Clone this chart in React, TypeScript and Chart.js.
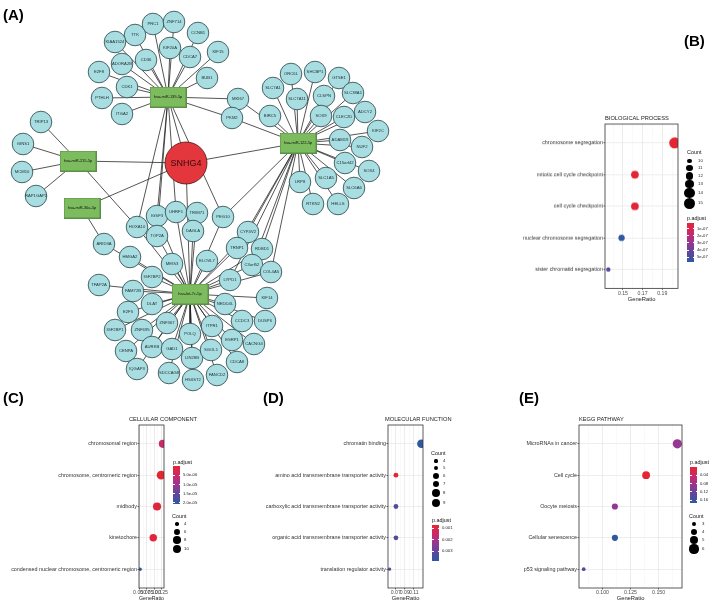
import React, { useEffect, useRef } from 'react';
import { Chart, registerables } from 'chart.js';

Chart.register(...registerables);

const FONT = '"Liberation Sans", Arial, Helvetica, sans-serif';

/* ===================== (A) ceRNA network data ===================== */
const lncRNA = 'SNHG4';
const miRNAs = ['hsa-miR-139-5p', 'hsa-miR-122-5p', 'hsa-miR-215-5p', 'hsa-miR-30a-5p', 'hsa-let-7c-5p'];
const targets139 = ['TTK', 'PRC1', 'ZNF714', 'KIAA1524', 'KIF20A', 'CD36', 'ADORA2B', 'E2F8', 'CDK1', 'PTHLH', 'ITGA2',
  'CCNB1', 'KIF15', 'CDCA7', 'BUB1', 'MKI67', 'PKM2', 'HOXA10', 'IGSF3', 'TOP2A', 'UHRF1', 'PEG10'];
const targets122 = ['ORC6L', 'SHCBP1', 'GTSE1', 'SLC7A1', 'SLC7A11', 'CLSPN', 'SLC38A1', 'BIRC5', 'SOX9', 'CLEC2D',
  'ADCY2', 'KIF2C', 'ADAM19', 'NUF2', 'C15orf42', 'SOX4', 'SLC6A6', 'SLC1A5', 'LRP8', 'RTKN2', 'HELLS', 'MKI67', 'PKM2',
  'PEG10', 'CYP4V2', 'TRNP1', 'RDBD1', 'C3orf52', 'COL4A5', 'LYPD1'];
const targets215 = ['TRIP13', 'GINS1', 'MCM10', 'RAP1GAP2', 'HOXA10'];
const targets30a = ['ARID3A'];
const targetsLet7c = ['HOXA10', 'IGSF3', 'TOP2A', 'UHRF1', 'TRIM71', 'DAGLA', 'PEG10', 'MEIS3', 'ELOVL7', 'ARID3A',
  'HMGA2', 'IGF2BP2', 'TFAP2A', 'FAM72B', 'DLAT', 'E2F5', 'IGF2BP1', 'ZNF695', 'ZNF367', 'CENPA', 'AURKB', 'GAD1',
  'IQGAP3', 'SDCCAG8', 'HS6ST2', 'LIN28B', 'POLQ', 'FANCD2', 'SGOL1', 'ITPR1', 'ESRP1', 'CDCA8', 'CACNG4', 'CCDC3',
  'DUSP6', 'KIF14', 'NEDD4L', 'LYPD1', 'C3orf52', 'COL4A5', 'TRNP1', 'RDBD1', 'CYP4V2'];
const targetLists = [targets139, targets122, targets215, targets30a, targetsLet7c];

// graph layout (Cytoscape-style node positions)
const nodeLayout: Record<string, [number, number]> = {
  SNHG4: [186, 163],
  'hsa-miR-139-5p': [168, 97], 'hsa-miR-122-5p': [298, 143], 'hsa-miR-215-5p': [78, 161],
  'hsa-miR-30a-5p': [82, 208], 'hsa-let-7c-5p': [190, 294],
  TTK: [135, 35], PRC1: [153, 24], ZNF714: [174, 22], KIAA1524: [115, 42], KIF20A: [170, 48], CD36: [146, 60],
  ADORA2B: [122, 64], E2F8: [99, 72], CDK1: [127, 87], PTHLH: [102, 98], ITGA2: [122, 114], CCNB1: [198, 33],
  KIF15: [218, 52], CDCA7: [190, 57], BUB1: [207, 78], MKI67: [238, 99], PKM2: [232, 118],
  TRIP13: [41, 122], GINS1: [23, 144], MCM10: [22, 172], RAP1GAP2: [36, 196],
  ORC6L: [291, 74], SHCBP1: [315, 72], GTSE1: [339, 78], SLC7A1: [273, 88], SLC7A11: [297, 99], CLSPN: [324, 96],
  SLC38A1: [353, 93], BIRC5: [270, 116], SOX9: [321, 116], CLEC2D: [344, 117], ADCY2: [365, 112], KIF2C: [378, 131],
  ADAM19: [340, 140], NUF2: [362, 147], C15orf42: [345, 163], SOX4: [369, 171], SLC6A6: [354, 188], SLC1A5: [326, 178],
  LRP8: [300, 182], RTKN2: [313, 204], HELLS: [338, 204],
  HOXA10: [137, 227], IGSF3: [157, 216], TOP2A: [157, 236], UHRF1: [176, 212], TRIM71: [197, 213], DAGLA: [193, 231],
  PEG10: [223, 217], MEIS3: [172, 264], ELOVL7: [207, 261], ARID3A: [104, 244], HMGA2: [130, 257], IGF2BP2: [152, 277],
  TFAP2A: [99, 285], FAM72B: [133, 291], DLAT: [152, 304], E2F5: [128, 312], IGF2BP1: [115, 330], ZNF695: [142, 330],
  ZNF367: [167, 323], CENPA: [126, 351], AURKB: [152, 347], GAD1: [172, 349], IQGAP3: [137, 369], SDCCAG8: [169, 373],
  HS6ST2: [193, 380], LIN28B: [192, 358], POLQ: [190, 334], FANCD2: [217, 375], SGOL1: [211, 350], ITPR1: [212, 326],
  ESRP1: [232, 340], CDCA8: [237, 362], CACNG4: [254, 344], CCDC3: [242, 321], DUSP6: [265, 321], KIF14: [267, 298],
  NEDD4L: [225, 304], LYPD1: [230, 280], C3orf52: [252, 265], COL4A5: [271, 272], TRNP1: [237, 248], RDBD1: [262, 249],
  CYP4V2: [248, 232],
};

/* ===================== (B)-(E) enrichment data ===================== */
const bpTerms = ['chromosome segregation', 'mitotic cell cycle checkpoint', 'cell cycle checkpoint',
  'nuclear chromosome segregation', 'sister chromatid segregation'];
const bpGeneRatio = [0.2027, 0.1622, 0.1622, 0.1486, 0.1351];
const bpCount = [15, 12, 12, 11, 10];
const bpPadj = [2.6e-8, 3.1e-8, 3.3e-8, 5.7e-7, 4.5e-7];
const bpXTicks = [0.15, 0.17, 0.19];
const bpXTickLabels = ['0.15', '0.17', '0.19'];
const bpXMinor = [0.14, 0.16, 0.18, 0.2];
const bpCountBreaks = [10, 11, 12, 13, 14, 15];
const bpPBreaks = [1e-7, 2e-7, 3e-7, 4e-7, 5e-7];
const bpPLabels = ['1e-07', '2e-07', '3e-07', '4e-07', '5e-07'];

const ccTerms = ['chromosomal region', 'chromosome, centromeric region', 'midbody', 'kinetochore',
  'condensed nuclear chromosome, centromeric region'];
const ccGeneRatio = [0.13, 0.124, 0.11, 0.097, 0.052];
const ccCount = [9, 10, 9, 8, 4];
const ccPadj = [5.5e-6, 2e-7, 1.2e-6, 1.0e-6, 2.07e-5];
const ccXTicks = [0.05, 0.075, 0.1, 0.125];
const ccXTickLabels = ['0.050', '0.075', '0.100', '0.125'];
const ccXMinor = [0.0625, 0.0875, 0.1125];
const ccCountBreaks = [4, 6, 8, 10];
const ccPBreaks = [5e-6, 1e-5, 1.5e-5, 2e-5];
const ccPLabels = ['5.0e-06', '1.0e-05', '1.5e-05', '2.0e-05'];

const mfTerms = ['chromatin binding', 'amino acid transmembrane transporter activity',
  'carboxylic acid transmembrane transporter activity', 'organic acid transmembrane transporter activity',
  'translation regulator activity'];
const mfGeneRatio = [0.1268, 0.0704, 0.0704, 0.0704, 0.0563];
const mfCount = [9, 5, 5, 5, 4];
const mfPadj = [0.00387, 0.00074, 0.0033, 0.0033, 0.0034];
const mfXTicks = [0.07, 0.09, 0.11];
const mfXTickLabels = ['0.07', '0.09', '0.11'];
const mfXMinor = [0.06, 0.08, 0.1, 0.12];
const mfCountBreaks = [4, 5, 6, 7, 8, 9];
const mfPBreaks = [0.001, 0.002, 0.003];
const mfPLabels = ['0.001', '0.002', '0.003'];

const keggTerms = ['MicroRNAs in cancer', 'Cell cycle', 'Oocyte meiosis', 'Cellular senescence', 'p53 signaling pathway'];
const keggGeneRatio = [0.1667, 0.1389, 0.1111, 0.1111, 0.0833];
const keggCount = [6, 5, 4, 4, 3];
const keggPadj = [0.088, 0.0015, 0.092, 0.175, 0.14];
const keggXTicks = [0.1, 0.125, 0.15];
const keggXTickLabels = ['0.100', '0.125', '0.150'];
const keggXMinor = [0.0875, 0.1125, 0.1375, 0.1625];
const keggCountBreaks = [3, 4, 5, 6];
const keggPBreaks = [0.04, 0.08, 0.12, 0.16];
const keggPLabels = ['0.04', '0.08', '0.12', '0.16'];

/* ===================== helpers ===================== */
const PALETTE: [number, number, number][] = [
  [228, 38, 50], [205, 40, 105], [150, 55, 145], [95, 70, 155], [48, 88, 160],
];
function colorAt(t: number) {
  const tt = Math.max(0, Math.min(1, t)) * (PALETTE.length - 1);
  const i = Math.min(PALETTE.length - 2, Math.floor(tt));
  const f = tt - i;
  const a = PALETTE[i], b = PALETTE[i + 1];
  const c = a.map((v, k) => Math.round(v + (b[k] - v) * f));
  return `rgb(${c[0]},${c[1]},${c[2]})`;
}
const gradientCss = `linear-gradient(to bottom, ${PALETTE.map((c, i) => `rgb(${c.join(',')}) ${(i / (PALETTE.length - 1)) * 100}%`).join(', ')})`;

type SizeCfg = { cMin: number; cMax: number; rMin: number; rMax: number };
function sizeFor(s: SizeCfg, c: number) {
  const f = (c - s.cMin) / (s.cMax - s.cMin);
  return Math.sqrt(s.rMin * s.rMin + f * (s.rMax * s.rMax - s.rMin * s.rMin));
}

function Txt({ x, y, size, text, bold = false, color = '#111' }: any) {
  const k = 4;
  return (
    <div style={{
      position: 'absolute', left: x, top: y - size * 0.6, fontFamily: FONT, fontSize: size * k,
      lineHeight: `${size * 1.2 * k}px`, fontWeight: bold ? 700 : 400, color, whiteSpace: 'nowrap',
      transform: `scale(${1 / k})`, transformOrigin: '0 0',
    }}>{text}</div>
  );
}

const nodeLabelPlugin = {
  id: 'nodeLabels',
  afterDatasetsDraw(chart: any) {
    const ctx = chart.ctx;
    chart.data.datasets.forEach((ds: any, i: number) => {
      if (!ds.nodeNames) return;
      const meta = chart.getDatasetMeta(i);
      ctx.save();
      ctx.font = `${ds.labelSize}px ${FONT}`;
      ctx.fillStyle = ds.labelColor;
      ctx.textAlign = 'center';
      ctx.textBaseline = 'middle';
      meta.data.forEach((el: any, j: number) => ctx.fillText(ds.nodeNames[j], el.x, el.y + 0.3));
      ctx.restore();
    });
  },
};

const panelBorderPlugin = {
  id: 'panelBorder',
  afterDatasetsDraw(chart: any) {
    const { ctx, chartArea: a } = chart;
    ctx.save();
    ctx.strokeStyle = '#333';
    ctx.lineWidth = 0.8;
    ctx.strokeRect(a.left, a.top, a.right - a.left, a.bottom - a.top);
    ctx.restore();
  },
};

/* ===================== (A) network chart ===================== */
const NET_W = 400;
const NET_H = 396;

function NetworkChart() {
  const ref = useRef<HTMLCanvasElement>(null);
  useEffect(() => {
    const genes = Array.from(new Set(targetLists.flat()));
    const edges: [string, string][] = [];
    miRNAs.forEach((m, i) => {
      edges.push([lncRNA, m]);
      targetLists[i].forEach((g) => edges.push([m, g]));
    });
    const pt = (n: string) => ({ x: nodeLayout[n][0], y: nodeLayout[n][1] });

    const rect = document.createElement('canvas');
    rect.width = 37; rect.height = 21;
    const g = rect.getContext('2d')!;
    g.fillStyle = '#7dbb5f';
    g.fillRect(0, 0, 37, 21);
    g.strokeStyle = '#5a8f46';
    g.lineWidth = 1;
    g.strokeRect(0.5, 0.5, 36, 20);

    const datasets: any[] = [
      {
        data: [pt(lncRNA)], nodeNames: [lncRNA], labelSize: 9, labelColor: '#3a0808',
        pointRadius: 21, pointBackgroundColor: '#e3373d', pointBorderColor: '#4a1515', pointBorderWidth: 0.8,
        order: 0, clip: false,
      },
      {
        data: miRNAs.map(pt), nodeNames: miRNAs, labelSize: 4, labelColor: '#111',
        pointStyle: rect, pointRadius: 18, order: 1, clip: false,
      },
      {
        data: genes.map(pt), nodeNames: genes, labelSize: 4.2, labelColor: '#203436',
        pointRadius: 10.8, pointBackgroundColor: '#a8dde1', pointBorderColor: '#2b4346', pointBorderWidth: 0.8,
        order: 2, clip: false,
      },
    ];
    edges.forEach(([a, b]) => datasets.push({
      data: [pt(a), pt(b)], showLine: true, borderColor: '#1c1c1c', borderWidth: 0.75,
      pointRadius: 0, order: 5, clip: false,
    }));

    const chart = new Chart(ref.current!, {
      type: 'scatter',
      data: { datasets },
      options: {
        animation: false, responsive: false, events: [],
        layout: { padding: 0, autoPadding: false },
        plugins: { legend: { display: false }, tooltip: { enabled: false } },
        scales: {
          x: { type: 'linear', display: false, min: 0, max: NET_W },
          y: { type: 'linear', display: false, min: 0, max: NET_H, reverse: true },
        },
      } as any,
      plugins: [nodeLabelPlugin],
    });
    return () => chart.destroy();
  }, []);
  return <canvas ref={ref} width={NET_W} height={NET_H}
    style={{ position: 'absolute', left: 0, top: 0, width: NET_W, height: NET_H }} />;
}

/* ===================== dot plot panels ===================== */
type Spec = {
  title: string; titleX: number; titleY: number;
  categories: string[]; ratio: number[]; count: number[]; padj: number[];
  xMajor: number[]; xMajorLabels: string[]; xMinor: number[];
  plot: { l: number; t: number; r: number; b: number }; canvasLeft: number; axisH: number;
  size: SizeCfg;
  countLeg: { x: number; titleY: number; breaks: number[]; ys: number[]; dotX: number; labelX: number };
  pLeg: { x: number; titleY: number; barY: number; barH: number; labelX: number; breaks: number[]; labels: string[] };
};

function DotPanel({ spec }: { spec: Spec }) {
  const ref = useRef<HTMLCanvasElement>(null);
  const padTop = 4, padRight = 8;
  const canvasTop = spec.plot.t - padTop;
  const W = spec.plot.r - spec.canvasLeft + padRight;
  const H = spec.plot.b - canvasTop + spec.axisH;
  const pLo = Math.min(...spec.padj), pHi = Math.max(...spec.padj);

  useEffect(() => {
    const n = spec.categories.length;
    const lo = Math.min(...spec.ratio), hi = Math.max(...spec.ratio);
    const ex = (hi - lo) * 0.05;
    const allTicks = [...spec.xMajor, ...spec.xMinor].sort((a, b) => a - b);
    const majorIdx = (v: number) => spec.xMajor.findIndex((m) => Math.abs(m - v) < 1e-9);
    const isMajor = (c: any) => !!c && !!c.tick && majorIdx(c.tick.value) >= 0;

    const chart = new Chart(ref.current!, {
      type: 'scatter',
      data: {
        datasets: [{
          data: spec.ratio.map((r, i) => ({ x: r, y: i + 1 })),
          pointRadius: spec.count.map((c) => sizeFor(spec.size, c)),
          pointBackgroundColor: spec.padj.map((p) => colorAt((p - pLo) / (pHi - pLo))),
          pointBorderWidth: 0,
        }],
      },
      options: {
        animation: false, responsive: false, events: [],
        layout: { padding: { top: padTop, right: padRight, left: 0, bottom: 0 }, autoPadding: false },
        plugins: { legend: { display: false }, tooltip: { enabled: false }, title: { display: false } },
        scales: {
          x: {
            type: 'linear', position: 'bottom', min: lo - ex, max: hi + ex,
            afterBuildTicks: (s: any) => { s.ticks = allTicks.map((v) => ({ value: v })); },
            afterFit: (s: any) => { s.height = spec.axisH; s.paddingLeft = 0; s.paddingRight = 0; },
            ticks: {
              autoSkip: false, maxRotation: 0, minRotation: 0, padding: 0,
              font: { family: FONT, size: 5.2 }, color: '#4d4d4d',
              callback: (v: any) => { const i = majorIdx(Number(v)); return i >= 0 ? spec.xMajorLabels[i] : ''; },
            },
            grid: {
              color: (c: any) => (isMajor(c) ? '#e4e4e4' : '#f2f2f2'),
              lineWidth: (c: any) => (isMajor(c) ? 0.7 : 0.5),
              tickColor: (c: any) => (isMajor(c) ? '#333' : 'rgba(0,0,0,0)'),
              tickLength: 1.5,
            },
            border: { display: false },
            title: { display: true, text: 'GeneRatio', font: { family: FONT, size: 5.8 }, color: '#1a1a1a', padding: 0 },
          },
          y: {
            type: 'linear', position: 'left', reverse: true, min: 0.4, max: n + 0.6,
            afterBuildTicks: (s: any) => { s.ticks = spec.categories.map((_, i) => ({ value: i + 1 })); },
            afterFit: (s: any) => { s.width = spec.plot.l - spec.canvasLeft; s.paddingTop = 0; s.paddingBottom = 0; },
            ticks: {
              autoSkip: false, padding: 0.5, font: { family: FONT, size: 5.4 }, color: '#333',
              callback: (v: any) => spec.categories[Math.round(Number(v)) - 1] ?? '',
            },
            grid: { color: '#e6e6e6', lineWidth: 0.7, tickColor: '#333', tickLength: 1.5 },
            border: { display: false },
          },
        },
      } as any,
      plugins: [panelBorderPlugin],
    });
    return () => chart.destroy();
  }, []);

  const cl = spec.countLeg, pl = spec.pLeg;
  return (
    <>
      <canvas ref={ref} width={W} height={H}
        style={{ position: 'absolute', left: spec.canvasLeft, top: canvasTop, width: W, height: H }} />
      <Txt x={spec.titleX} y={spec.titleY} size={5.7} text={spec.title} color="#1a1a1a" />
      <Txt x={cl.x} y={cl.titleY} size={5.4} text="Count" />
      {cl.breaks.map((c, i) => {
        const r = sizeFor(spec.size, c);
        return (
          <React.Fragment key={'c' + c}>
            <div style={{ position: 'absolute', left: cl.dotX - r, top: cl.ys[i] - r, width: 2 * r, height: 2 * r, borderRadius: '50%', background: '#000' }} />
            <Txt x={cl.labelX} y={cl.ys[i]} size={4.3} text={String(c)} color="#222" />
          </React.Fragment>
        );
      })}
      <Txt x={pl.x} y={pl.titleY} size={5.4} text="p.adjust" />
      <div style={{ position: 'absolute', left: pl.x, top: pl.barY, width: 7, height: pl.barH, background: gradientCss }} />
      {pl.breaks.map((b, i) => {
        const y = pl.barY + ((b - pLo) / (pHi - pLo)) * pl.barH;
        return (
          <React.Fragment key={'p' + i}>
            <div style={{ position: 'absolute', left: pl.x, top: y - 0.3, width: 1.5, height: 0.6, background: '#fff' }} />
            <div style={{ position: 'absolute', left: pl.x + 5.5, top: y - 0.3, width: 1.5, height: 0.6, background: '#fff' }} />
            <Txt x={pl.labelX} y={y} size={4.2} text={pl.labels[i]} color="#222" />
          </React.Fragment>
        );
      })}
    </>
  );
}

const specB: Spec = {
  title: 'BIOLOGICAL PROCESS', titleX: 605, titleY: 118.5,
  categories: bpTerms, ratio: bpGeneRatio, count: bpCount, padj: bpPadj,
  xMajor: bpXTicks, xMajorLabels: bpXTickLabels, xMinor: bpXMinor,
  plot: { l: 605, t: 124, r: 678, b: 288 }, canvasLeft: 505, axisH: 14.5,
  size: { cMin: 10, cMax: 15, rMin: 2.2, rMax: 5.5 },
  countLeg: { x: 687, titleY: 152, breaks: bpCountBreaks, ys: [161, 168, 176, 184, 193, 203], dotX: 689.5, labelX: 698 },
  pLeg: { x: 687, titleY: 218, barY: 223, barH: 39, labelX: 697, breaks: bpPBreaks, labels: bpPLabels },
};
const specC: Spec = {
  title: 'CELLULAR COMPONENT', titleX: 129, titleY: 419,
  categories: ccTerms, ratio: ccGeneRatio, count: ccCount, padj: ccPadj,
  xMajor: ccXTicks, xMajorLabels: ccXTickLabels, xMinor: ccXMinor,
  plot: { l: 139, t: 425, r: 164, b: 588 }, canvasLeft: 0, axisH: 14,
  size: { cMin: 4, cMax: 10, rMin: 1.7, rMax: 4.4 },
  countLeg: { x: 172, titleY: 516, breaks: ccCountBreaks, ys: [524, 532, 540, 549], dotX: 177, labelX: 184 },
  pLeg: { x: 173, titleY: 462, barY: 466, barH: 38, labelX: 183, breaks: ccPBreaks, labels: ccPLabels },
};
const specD: Spec = {
  title: 'MOLECULAR FUNCTION', titleX: 385, titleY: 419,
  categories: mfTerms, ratio: mfGeneRatio, count: mfCount, padj: mfPadj,
  xMajor: mfXTicks, xMajorLabels: mfXTickLabels, xMinor: mfXMinor,
  plot: { l: 388, t: 425, r: 423, b: 588 }, canvasLeft: 255, axisH: 14,
  size: { cMin: 4, cMax: 9, rMin: 1.6, rMax: 4.3 },
  countLeg: { x: 431, titleY: 453, breaks: mfCountBreaks, ys: [461, 468, 476, 484, 493, 503], dotX: 436, labelX: 443 },
  pLeg: { x: 432, titleY: 520, barY: 525, barH: 36, labelX: 442, breaks: mfPBreaks, labels: mfPLabels },
};
const specE: Spec = {
  title: 'KEGG PATHWAY', titleX: 579, titleY: 419,
  categories: keggTerms, ratio: keggGeneRatio, count: keggCount, padj: keggPadj,
  xMajor: keggXTicks, xMajorLabels: keggXTickLabels, xMinor: keggXMinor,
  plot: { l: 579, t: 425, r: 682, b: 588 }, canvasLeft: 520, axisH: 14,
  size: { cMin: 3, cMax: 6, rMin: 1.9, rMax: 4.6 },
  countLeg: { x: 689, titleY: 516, breaks: keggCountBreaks, ys: [524, 532, 540, 549], dotX: 694, labelX: 702 },
  pLeg: { x: 690, titleY: 462, barY: 467, barH: 36, labelX: 700, breaks: keggPBreaks, labels: keggPLabels },
};

export default function App() {
  return (
    <div style={{ position: 'absolute', left: 0, top: 0, width: 720, height: 616, background: '#fff', overflow: 'hidden' }}>
      <NetworkChart />
      <DotPanel spec={specB} />
      <DotPanel spec={specC} />
      <DotPanel spec={specD} />
      <DotPanel spec={specE} />
      <Txt x={3} y={14.5} size={15} bold text="(A)" color="#000" />
      <Txt x={684} y={41} size={15} bold text="(B)" color="#000" />
      <Txt x={3} y={398} size={15} bold text="(C)" color="#000" />
      <Txt x={263} y={398} size={15} bold text="(D)" color="#000" />
      <Txt x={519} y={398} size={15} bold text="(E)" color="#000" />
    </div>
  );
}
